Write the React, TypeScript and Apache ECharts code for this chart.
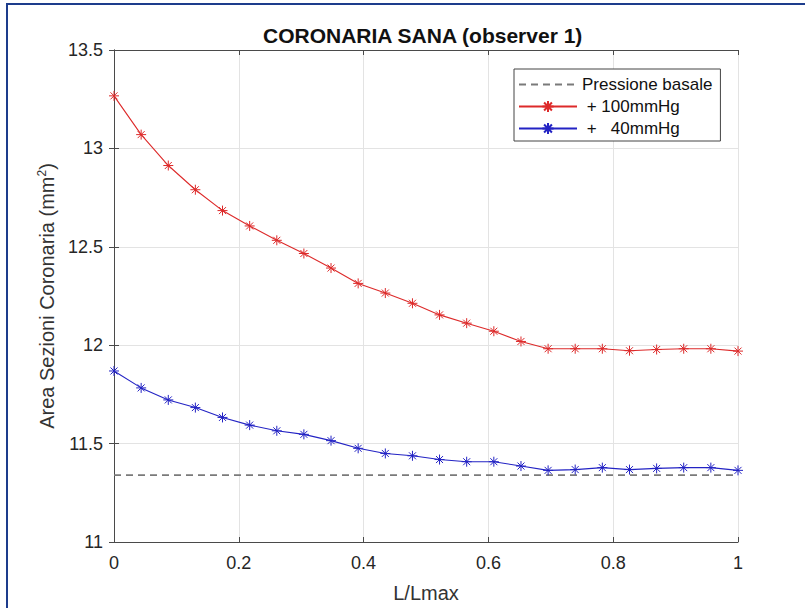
import React, { useEffect, useRef } from "react";
import * as echarts from "echarts";

const xs = [0, 0.0435, 0.087, 0.1304, 0.1739, 0.2174, 0.2609, 0.3043, 0.3478, 0.3913, 0.4348, 0.4783, 0.5217, 0.5652, 0.6087, 0.6522, 0.6957, 0.7391, 0.7826, 0.8261, 0.8696, 0.913, 0.9565, 1];
const red100 = [13.267, 13.07, 12.913, 12.79, 12.684, 12.606, 12.533, 12.466, 12.392, 12.314, 12.265, 12.213, 12.154, 12.112, 12.071, 12.019, 11.982, 11.982, 11.982, 11.972, 11.978, 11.982, 11.982, 11.97];
const blue40 = [11.869, 11.783, 11.722, 11.683, 11.633, 11.594, 11.565, 11.547, 11.515, 11.476, 11.45, 11.438, 11.419, 11.408, 11.408, 11.386, 11.364, 11.368, 11.378, 11.368, 11.374, 11.378, 11.378, 11.364];
const baseline = [11.34, 11.34];
const baselineX = [0, 1];

const titleText = "CORONARIA SANA (observer 1)";
const xName = "L/Lmax";
const yName = "Area Sezioni Coronaria (mm{sup|2})";
const nameBase = "Pressione basale";
const name100 = "\u00a0+ 100mmHg";
const name40 = "\u00a0+\u00a0\u00a0 40mmHg";

const RED = "#dd2a2a";
const BLUE = "#2323c4";
const GRAY = "#7a7a7a";
const AXIS = "#4a4a4a";
const FONT = "Liberation Sans, Arial, sans-serif";
const STAR = "path://M5,0L5,10M0,5L10,5M1.5,1.5L8.5,8.5M1.5,8.5L8.5,1.5";

export default function App() {
  const ref = useRef<HTMLDivElement>(null);
  useEffect(() => {
    if (!ref.current) return;
    const chart = echarts.init(ref.current, null, { renderer: "svg" });
    const pairs = (x: number[], y: number[]) => x.map((v, i) => [v, y[i]]);
    const hiddenAxisCommon = {
      axisLabel: { show: false },
      splitLine: { show: false },
      axisLine: { show: true, lineStyle: { color: AXIS, width: 1 } },
      axisTick: { show: true, inside: true, length: 5, lineStyle: { color: AXIS } },
    };
    chart.setOption({
      animation: false,
      backgroundColor: "#ffffff",
      textStyle: { fontFamily: FONT },
      title: {
        text: titleText,
        left: 263,
        top: 25,
        padding: 0,
        textStyle: { fontFamily: FONT, fontSize: 21, fontWeight: "bold", color: "#111" },
      },
      grid: { left: 114, right: 67, top: 50, bottom: 64, containLabel: false },
      legend: {
        orient: "vertical",
        left: 514,
        top: 69,
        width: 205,
        itemWidth: 58,
        itemHeight: 14,
        itemGap: 5,
        padding: [7, 8, 4, 4],
        borderColor: "#444",
        borderWidth: 1,
        backgroundColor: "#fff",
        textStyle: { fontFamily: FONT, fontSize: 17, color: "#111" },
        data: [
          { name: nameBase, itemStyle: { color: "rgba(0,0,0,0)", borderWidth: 0, opacity: 0 } },
          name100,
          name40,
        ],
      },
      xAxis: [
        {
          type: "value",
          min: 0,
          max: 1,
          interval: 0.2,
          name: xName,
          nameLocation: "middle",
          nameGap: 41,
          nameTextStyle: { fontFamily: FONT, fontSize: 20, color: "#333" },
          axisLine: { show: true, lineStyle: { color: AXIS, width: 1 } },
          axisTick: { show: true, inside: true, length: 5, lineStyle: { color: AXIS } },
          axisLabel: { fontFamily: FONT, fontSize: 18, color: "#262626", margin: 12 },
          splitLine: { show: true, lineStyle: { color: "#e3e3e3", width: 1 } },
        },
        { type: "value", min: 0, max: 1, interval: 0.2, position: "top", ...hiddenAxisCommon },
      ],
      yAxis: [
        {
          type: "value",
          min: 11,
          max: 13.5,
          interval: 0.5,
          name: yName,
          nameLocation: "middle",
          nameGap: 53,
          nameTextStyle: {
            fontFamily: FONT,
            fontSize: 20,
            color: "#333",
            rich: { sup: { fontSize: 12, verticalAlign: "top", padding: [0, 0, 10, 0], color: "#333" } },
          },
          axisLine: { show: true, lineStyle: { color: AXIS, width: 1 } },
          axisTick: { show: true, inside: true, length: 5, lineStyle: { color: AXIS } },
          axisLabel: { fontFamily: FONT, fontSize: 18, color: "#262626", margin: 11 },
          splitLine: { show: true, lineStyle: { color: "#e3e3e3", width: 1 } },
        },
        { type: "value", min: 11, max: 13.5, interval: 0.5, position: "right", ...hiddenAxisCommon },
      ],
      series: [
        {
          name: nameBase,
          type: "line",
          data: pairs(baselineX, baseline),
          showSymbol: false,
          symbol: "none",
          lineStyle: { color: GRAY, width: 1.6, type: [7, 5] },
          itemStyle: { color: GRAY },
          z: 2,
        },
        {
          name: name100,
          type: "line",
          data: pairs(xs, red100),
          symbol: STAR,
          symbolSize: 10,
          lineStyle: { color: RED, width: 1.1 },
          itemStyle: { color: RED, borderColor: RED, borderWidth: 1 },
          z: 3,
        },
        {
          name: name40,
          type: "line",
          data: pairs(xs, blue40),
          symbol: STAR,
          symbolSize: 10,
          lineStyle: { color: BLUE, width: 1.1 },
          itemStyle: { color: BLUE, borderColor: BLUE, borderWidth: 1 },
          z: 3,
        },
      ],
      graphic: [
        {
          type: "rect",
          shape: { x: 7, y: 4, width: 900, height: 700 },
          style: { fill: "none", stroke: "#1d3c8c", lineWidth: 2 },
          silent: true,
          z: 100,
        },
      ],
    });
    return () => chart.dispose();
  }, []);
  return (
    <div
      ref={ref}
      style={{ position: "fixed", left: 0, top: 0, width: 805, height: 608 }}
    />
  );
}
